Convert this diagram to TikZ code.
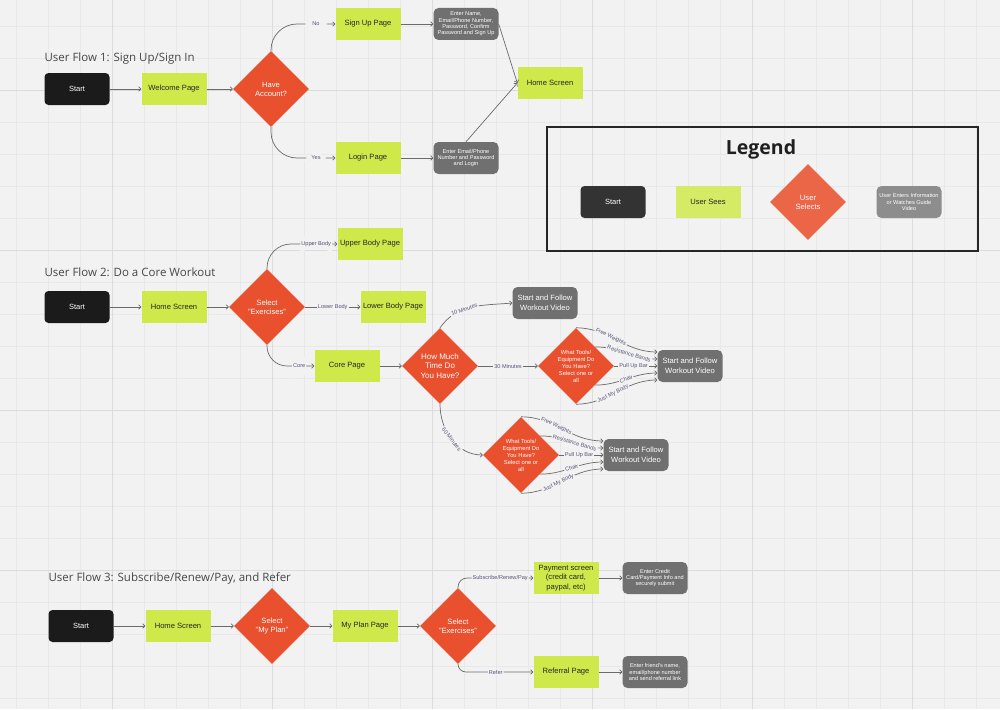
\documentclass[tikz,border=0pt]{standalone}
\usepackage{fontspec}
\setmainfont{Liberation Sans}
\newfontfamily\titlefont{Open Sans}
\usetikzlibrary{shapes.geometric,arrows.meta,positioning,calc}

\definecolor{bg}{HTML}{F2F2F2}
\definecolor{gridminor}{HTML}{E8E8E8}
\definecolor{gridmajor}{HTML}{DCDCDC}
\definecolor{startblk}{HTML}{1B1B1B}
\definecolor{seegreen}{HTML}{CFE84A}
\definecolor{selred}{HTML}{E8502E}
\definecolor{infogrey}{HTML}{707070}
\definecolor{linegrey}{HTML}{6A6A6A}
\definecolor{labelink}{HTML}{55557A}

\begin{document}
\begin{tikzpicture}[x=1pt, y=-1pt,
    startbox/.style={rectangle, rounded corners=4pt, fill=startblk, text=white, minimum width=65pt, minimum height=32pt, font=\fontsize{7.5}{9}\selectfont},
    seebox/.style={rectangle, fill=seegreen, text=black!85, minimum width=65pt, minimum height=32pt, inner sep=1pt, align=center, font=\fontsize{7.6}{9.5}\selectfont},
    selbox/.style={diamond, fill=selred, text=white, minimum width=76pt, minimum height=76pt, inner sep=0pt, align=center, font=\fontsize{7.6}{9}\selectfont},
    infobox/.style={rectangle, rounded corners=5pt, fill=infogrey, text=white, minimum width=65pt, minimum height=32pt, inner sep=1pt, align=center, font=\fontsize{5.6}{6.4}\selectfont},
    flow/.style={draw=linegrey, line width=0.7pt, -{To[length=3pt,width=5pt]}},
    lbl/.style={fill=bg, inner sep=1pt, text=labelink, font=\fontsize{5.6}{6.5}\selectfont},
    flowtitle/.style={anchor=west, text=black!72, font=\titlefont\fontsize{11.5}{13}\selectfont}]

    % background and grid
    \fill[bg] (0,0) rectangle (1000,709);
    \useasboundingbox (0,0) rectangle (1000,709);
    \foreach \gx in {16,48,...,1000} \draw[gridminor, line width=0.5pt] (\gx,0) -- (\gx,709);
    \foreach \gy in {26,58,...,709} \draw[gridminor, line width=0.5pt] (0,\gy) -- (1000,\gy);
    \foreach \gx in {112,272,...,1000} \draw[gridmajor, line width=0.8pt] (\gx,0) -- (\gx,709);
    \foreach \gy in {90,250,...,709} \draw[gridmajor, line width=0.8pt] (0,\gy) -- (1000,\gy);

    % User Flow 1
    \node[flowtitle] (title1) at (41,59) {User Flow 1: Sign Up/Sign In};
    \node[startbox] (start1) at (77,89) {Start};
    \node[seebox] (welcome) at (174,89) {Welcome Page};
    \node[selbox] (have) at (271,89) {Have\\Account?};
    \node[seebox] (signup) at (368,24) {Sign Up Page};
    \node[seebox] (login) at (368,158) {Login Page};
    \node[infobox] (entername) at (466,24) {Enter Name,\\Email/Phone Number,\\Password, Confirm\\Password and Sign Up};
    \node[infobox] (enterlogin) at (466,158) {Enter Email/Phone\\Number and Password\\and Login};
    \node[seebox] (home1) at (550,83) {Home Screen};

    \draw[flow] (start1) -- (welcome);
    \draw[flow] (welcome) -- (have);
    \draw[flow, rounded corners=26pt] (have.north) |- node[lbl, pos=0.85] {No} (signup.west);
    \draw[flow, rounded corners=26pt] (have.south) |- node[lbl, pos=0.85] {Yes} (login.west);
    \draw[flow] (signup) -- (entername);
    \draw[flow] (login) -- (enterlogin);
    \draw[flow] (entername.east) -- (home1.west);
    \draw[flow] (enterlogin.north) -- (home1.west);

    % Legend
    \draw[line width=2pt, draw=black!85] (547,127) rectangle (978,251);
    \node[font=\titlefont\bfseries\fontsize{19.5}{22}\selectfont, text=black!88] (legend) at (761,149) {Legend};
    \node[startbox, fill=black!80] (keystart) at (613,202) {Start};
    \node[seebox, fill=seegreen!85!white] (keysees) at (708,202) {User Sees};
    \node[selbox, fill=selred!88!white] (keyselects) at (808,202) {User\\Selects};
    \node[infobox, fill=infogrey!80!white, font=\fontsize{5.6}{6.2}\selectfont] (keyinfo) at (909,202) {User Enters Information\\or Watches Guide\\Video};

    % User Flow 2
    \node[flowtitle] (title2) at (41,272) {User Flow 2: Do a Core Workout};
    \node[startbox] (start2) at (77,307) {Start};
    \node[seebox] (home2) at (174,307) {Home Screen};
    \node[selbox] (selex) at (267,307) {Select\\"Exercises"};
    \node[seebox] (upper) at (370,244) {Upper Body Page};
    \node[seebox] (lower) at (393,307) {Lower Body Page};
    \node[seebox] (core) at (347,366) {Core Page};
    \node[selbox, font=\fontsize{8}{9.6}\selectfont] (howmuch) at (440,366) {How Much\\Time Do\\You Have?};
    \node[infobox, font=\fontsize{7.6}{9.5}\selectfont] (vid10) at (545,303) {Start and Follow\\Workout Video};
    \node[selbox, font=\fontsize{5.8}{7}\selectfont] (tools30) at (576,366) {What Tools/\\Equipment Do\\You Have?\\Select one or\\all};
    \node[infobox, font=\fontsize{7.6}{9.5}\selectfont] (vid30) at (690,366) {Start and Follow\\Workout Video};
    \node[selbox, font=\fontsize{5.8}{7}\selectfont] (tools60) at (521,455) {What Tools/\\Equipment Do\\You Have?\\Select one or\\all};
    \node[infobox, font=\fontsize{7.6}{9.5}\selectfont] (vid60) at (636,455) {Start and Follow\\Workout Video};

    \draw[flow] (start2) -- (home2);
    \draw[flow] (home2) -- (selex);
    \draw[flow, rounded corners=24pt] (selex.north) |- node[lbl, pos=0.85] {Upper Body} (upper.west);
    \draw[flow] (selex.east) -- node[lbl] {Lower Body} (lower.west);
    \draw[flow, rounded corners=20pt] (selex.south) |- node[lbl, pos=0.84] {Core} (core.west);
    \draw[flow] (core) -- (howmuch);
    \draw[flow] (howmuch.north) to[out=55, in=185] node[lbl, sloped, pos=0.4] {10 Minutes} (vid10.west);
    \draw[flow] (howmuch.east) -- node[lbl] {30 Minutes} (tools30.west);
    \draw[flow] (howmuch.south) to[out=-90, in=180] node[lbl, sloped, pos=0.5] {60 Minutes} (tools60.west);

    \draw[flow] (tools30.north) to[out=0, in=180] node[lbl, sloped, pos=0.42] {Free Weights} ([yshift=14pt]vid30.west);
    \draw[flow] (tools30.north east) to[out=0, in=180] node[lbl, sloped, pos=0.55] {Resistance Bands} ([yshift=7pt]vid30.west);
    \draw[flow] (tools30.east) -- node[lbl, pos=0.45] {Pull Up Bar} (vid30.west);
    \draw[flow] (tools30.south east) to[out=0, in=180] node[lbl, sloped, pos=0.5] {Chair} ([yshift=-7pt]vid30.west);
    \draw[flow] (tools30.south) to[out=0, in=180] node[lbl, sloped, pos=0.45] {Just My Body} ([yshift=-14pt]vid30.west);

    \draw[flow] (tools60.north) to[out=0, in=180] node[lbl, sloped, pos=0.42] {Free Weights} ([yshift=14pt]vid60.west);
    \draw[flow] (tools60.north east) to[out=0, in=180] node[lbl, sloped, pos=0.55] {Resistance Bands} ([yshift=7pt]vid60.west);
    \draw[flow] (tools60.east) -- node[lbl, pos=0.45] {Pull Up Bar} (vid60.west);
    \draw[flow] (tools60.south east) to[out=0, in=180] node[lbl, sloped, pos=0.5] {Chair} ([yshift=-7pt]vid60.west);
    \draw[flow] (tools60.south) to[out=0, in=180] node[lbl, sloped, pos=0.45] {Just My Body} ([yshift=-14pt]vid60.west);

    % User Flow 3
    \node[flowtitle] (title3) at (45,578) {User Flow 3: Subscribe/Renew/Pay, and Refer};
    \node[startbox] (start3) at (81,626) {Start};
    \node[seebox] (home3) at (178,626) {Home Screen};
    \node[selbox] (selplan) at (272,626) {Select\\"My Plan"};
    \node[seebox] (myplan) at (365,626) {My Plan Page};
    \node[selbox] (selex3) at (458,626) {Select\\"Exercises"};
    \node[seebox] (payment) at (566,578) {Payment screen\\(credit card,\\paypal, etc)};
    \node[infobox] (entercc) at (655,578) {Enter Credit\\Card/Payment Info and\\securely submit};
    \node[seebox] (referral) at (566,672) {Referral Page};
    \node[infobox] (enterfriend) at (655,672) {Enter friend's name,\\email/phone number\\and send referral link};

    \draw[flow] (start3) -- (home3);
    \draw[flow] (home3) -- (selplan);
    \draw[flow] (selplan) -- (myplan);
    \draw[flow] (myplan) -- (selex3);
    \draw[flow, rounded corners=9pt] (selex3.north) |- node[lbl, pos=0.78] {Subscribe/Renew/Pay} (payment.west);
    \draw[flow, rounded corners=8pt] (selex3.south) |- node[lbl, pos=0.75] {Refer} (referral.west);
    \draw[flow] (payment) -- (entercc);
    \draw[flow] (referral) -- (enterfriend);

\end{tikzpicture}
\end{document}
